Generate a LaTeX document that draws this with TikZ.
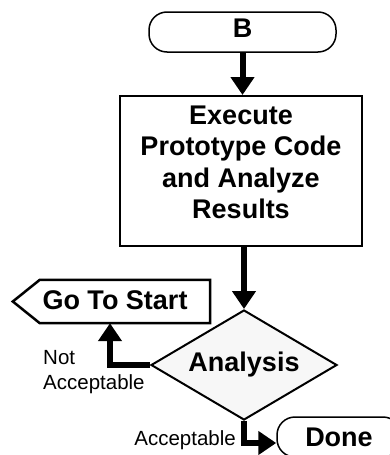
\documentclass[tikz,border=0pt]{standalone}
\usepackage{fontspec}
\setmainfont{Liberation Sans}
\usetikzlibrary{arrows.meta,shapes.geometric}
\begin{document}
\begin{tikzpicture}[x=1pt,y=-1pt,
  bigtxt/.style={font=\fontsize{27}{31.5}\selectfont\bfseries},
  smalltxt/.style={font=\fontsize{20.5}{25}\selectfont},
  flow/.style={line width=6pt,-{Triangle[length=18pt,width=23pt]}},
  term/.style={draw,line width=1.5pt,rounded corners=18pt,inner sep=0pt},
  procbox/.style={draw,line width=2pt,inner sep=0pt,align=center},
  decision/.style={diamond,draw,line width=2pt,fill=gray!6,inner sep=0pt,aspect=1.69},
  outline/.style={draw,line width=2.5pt,line join=miter}]
\useasboundingbox (0,0) rectangle (389,455);
% nodes
\node[term,bigtxt,minimum width=187pt,minimum height=40pt,text depth=7pt] (b) at (242.5,32) {B};
\node[procbox,bigtxt,minimum width=242pt,minimum height=150pt,text depth=18pt] (exec) at (241,171)
  {Execute\\Prototype Code\\and Analyze\\Results};
\node[decision,bigtxt,minimum width=186pt,minimum height=110pt] (ana) at (244,365) {Analysis};
\node[inner sep=0pt,minimum width=170pt,minimum height=43pt] (gts) at (125,301.5) {};
\draw[outline] (gts.north east) -- (gts.north west) -- ([xshift=-27pt]gts.west)
  -- (gts.south west) -- (gts.south east) -- cycle;
\node[bigtxt] (gtstext) at (115,300) {Go To Start};
\node[term,bigtxt,minimum width=124pt,minimum height=40pt] (done) at (339,437) {Done};
% labels
\node[smalltxt,align=left,anchor=west,inner sep=0pt] (notacc) at (43,372.5) {Not\\Acceptable};
\node[smalltxt,anchor=base east,inner sep=0pt] (acc) at (236,445) {Acceptable};
% connectors
\draw[flow] (b.south) -- (b.south |- exec.north);
\draw[flow] (ana.north |- exec.south) -- (ana.north);
\draw[flow] (ana.west) -| ([xshift=-15pt]gts.south);
\draw[flow] (ana.south) |- ([yshift=-6pt]done.west);
\end{tikzpicture}
\end{document}
